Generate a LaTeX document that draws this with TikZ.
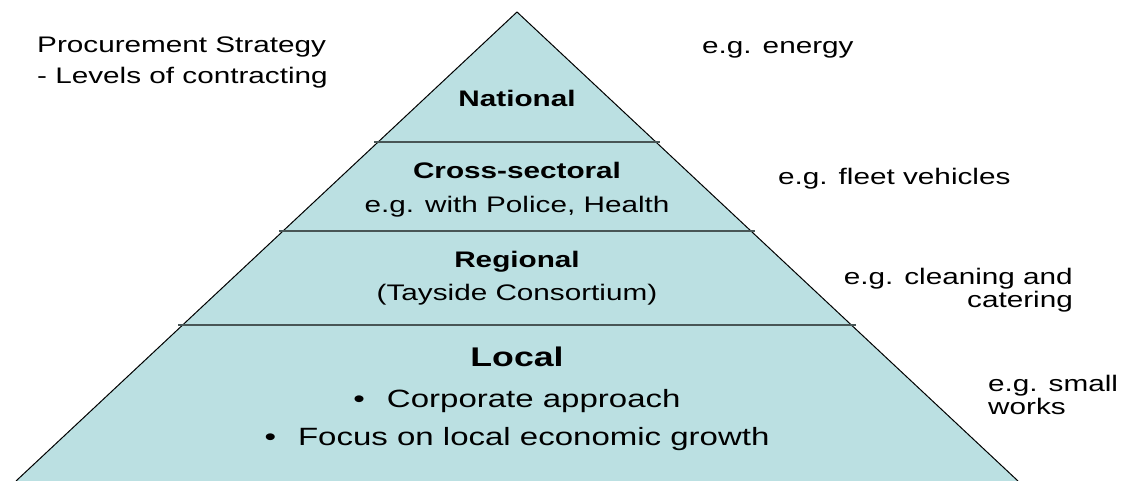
\documentclass[tikz,border=0pt]{standalone}
\usepackage{fontspec}
\setmainfont{Liberation Sans}[FakeStretch=1.32]
\definecolor{tierfill}{RGB}{187,224,226}
\definecolor{tierline}{RGB}{72,86,86}
\begin{document}
\begin{tikzpicture}[x=1pt, y=-1pt,
  txt/.style={inner sep=0pt, font=\fontsize{22.5}{23}\selectfont},
  tier/.style={inner sep=0pt, font=\fontsize{22.5}{23}\selectfont\bfseries},
  point/.style={inner sep=0pt, font=\fontsize{25}{26}\selectfont}]
\useasboundingbox (0,0) rectangle (1124,481);
\coordinate (apex) at (517,12);
\coordinate (baseL) at (16,481);
\coordinate (baseR) at (1018,481);
\fill[tierfill] (baseL) -- (apex) -- (baseR) -- cycle;
\draw[line width=1pt] (baseL) -- (apex) -- (baseR);
\draw[tierline, line width=2.5pt] (374,142) -- (660,142);
\draw[tierline, line width=2.5pt] (279,231) -- (755,231);
\draw[tierline, line width=2.5pt] (178,325) -- (856,325);

\node[txt, anchor=base west] (strat) at (37,53) {Procurement Strategy};
\node[txt, anchor=base west] (levels) at (37,84) {- Levels of contracting};

\node[tier, anchor=base] (national) at (517,107) {National};
\node[tier, anchor=base] (cross) at (517,179) {Cross-sectoral};
\node[txt, anchor=base] (crossEg) at (517,213) {e.g. with Police, Health};
\node[tier, anchor=base] (regional) at (517,267) {Regional};
\node[txt, anchor=base] (regionalEg) at (517,300) {(Tayside Consortium)};
\node[tier, anchor=base, font=\fontsize{27}{30}\selectfont\bfseries] (local) at (517,366) {Local};
\node[point, anchor=base] (localA) at (517,407) {\textbullet\hspace{22pt}Corporate approach};
\node[point, anchor=base] (localB) at (517,445) {\textbullet\hspace{22pt}Focus on local economic growth};

\node[txt, anchor=base west] (egNational) at (702,54) {e.g. energy};
\node[txt, anchor=base west] (egCross) at (778,185) {e.g. fleet vehicles};
\node[txt, anchor=base east, align=right] (egRegional) at (1073,307) {e.g. cleaning and\\catering};
\node[txt, anchor=base west, align=left] (egLocal) at (988,414) {e.g. small\\works};

\end{tikzpicture}
\end{document}
